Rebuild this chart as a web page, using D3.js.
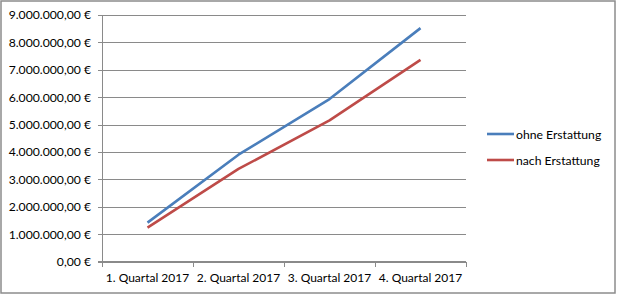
<!DOCTYPE html>
<html>
<head>
<meta charset="utf-8">
<script src="https://cdn.jsdelivr.net/npm/d3@7"></script>
<style>
  body { margin: 0; background: #fff; }
  text { font-family: Lato, "Open Sans", sans-serif; fill: #000; }
</style>
</head>
<body>
<svg id="chart" width="617" height="296"></svg>
<script>
// Chart data
const categories = ["1. Quartal 2017", "2. Quartal 2017", "3. Quartal 2017", "4. Quartal 2017"];
const seriesNames = ["ohne Erstattung", "nach Erstattung"];
const ohneValues = [1420000, 3900000, 5930000, 8520000];
const nachValues = [1240000, 3380000, 5150000, 7360000];
const yTicks = [0, 1000000, 2000000, 3000000, 4000000, 5000000, 6000000, 7000000, 8000000, 9000000];
const colors = ["#4a7ebb", "#be4b48"];

const svg = d3.select("#chart");

// outer frame
svg.append("rect")
  .attr("x", 1).attr("y", 1)
  .attr("width", 614).attr("height", 292)
  .attr("fill", "#fff")
  .attr("stroke", "#8c8c8c")
  .attr("stroke-width", 1.5);

const plot = { left: 102, right: 466, top: 15, bottom: 261.5 };

const x = d3.scaleBand()
  .domain(categories)
  .range([plot.left, plot.right]);

const y = d3.scaleLinear()
  .domain([0, 9000000])
  .range([plot.bottom, plot.top]);

const fmt = v => {
  const s = d3.format(",.2f")(v); // 1,000,000.00
  return s.replace(/,/g, "#").replace(".", ",").replace(/#/g, ".") + " €";
};

// gridlines + y labels
const yAxis = d3.axisLeft(y)
  .tickValues(yTicks)
  .tickSize(-(plot.right - plot.left))
  .tickPadding(8)
  .tickFormat(fmt);

const gy = svg.append("g")
  .attr("transform", `translate(${plot.left},0)`)
  .call(yAxis);
gy.select(".domain").remove();
gy.selectAll(".tick line")
  .attr("x1", -4)
  .attr("stroke", "#8a8a8a")
  .attr("stroke-width", 1)
  .attr("shape-rendering", "crispEdges");
gy.selectAll(".tick text")
  .attr("font-size", 12.2)
  .attr("font-family", "Lato, 'Open Sans', sans-serif")
  .attr("x", -11);

// vertical axis line
svg.append("line")
  .attr("x1", plot.left).attr("x2", plot.left)
  .attr("y1", plot.top).attr("y2", plot.bottom + 4)
  .attr("stroke", "#8a8a8a")
  .attr("shape-rendering", "crispEdges");

// x axis with category ticks at band edges
const gx = svg.append("g")
  .attr("transform", `translate(0,${y(0)})`);
gx.append("line")
  .attr("x1", plot.left - 4).attr("x2", plot.right)
  .attr("stroke", "#8a8a8a")
  .attr("shape-rendering", "crispEdges");
const edges = categories.map(c => x(c)).concat([x.range()[1]]);
gx.selectAll("line.tk")
  .data(edges)
  .join("line")
  .attr("class", "tk")
  .attr("x1", d => d).attr("x2", d => d)
  .attr("y1", 0).attr("y2", 5)
  .attr("stroke", "#8a8a8a")
  .attr("shape-rendering", "crispEdges");
gx.selectAll("text")
  .data(categories)
  .join("text")
  .attr("x", d => x(d) + x.bandwidth() / 2)
  .attr("y", 20)
  .attr("text-anchor", "middle")
  .attr("font-size", 12)
  .text(d => d);

// lines
const series = [ohneValues, nachValues];
const line = d3.line()
  .x((d, i) => x(categories[i]) + x.bandwidth() / 2)
  .y(d => y(d));

svg.selectAll("path.series")
  .data(series)
  .join("path")
  .attr("class", "series")
  .attr("d", d => line(d))
  .attr("fill", "none")
  .attr("stroke", (d, i) => colors[i])
  .attr("stroke-width", 2.6)
  .attr("stroke-linejoin", "round");

// legend
const legend = svg.append("g");
seriesNames.forEach((name, i) => {
  const ly = 134 + i * 26;
  legend.append("line")
    .attr("x1", 487).attr("x2", 514)
    .attr("y1", ly).attr("y2", ly)
    .attr("stroke", colors[i])
    .attr("stroke-width", 2.6);
  legend.append("text")
    .attr("x", 516)
    .attr("y", ly + 4.5)
    .attr("font-size", 12.2)
    .text(name);
});
</script>
</body>
</html>
